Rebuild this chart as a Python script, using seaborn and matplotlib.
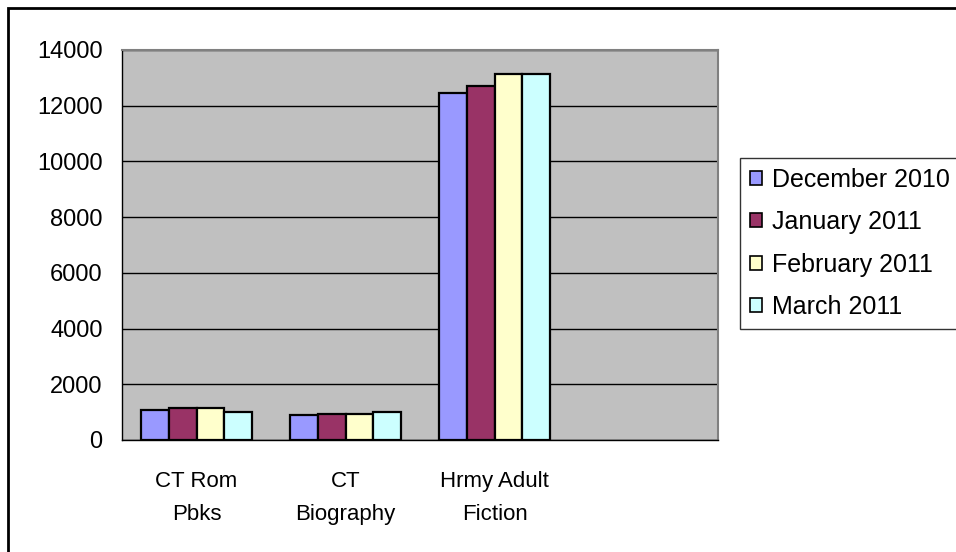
import matplotlib
matplotlib.use("Agg")
import matplotlib.pyplot as plt
import matplotlib.patches as mpatches
import seaborn as sns
import pandas as pd

categories = ["CT Rom\nPbks", "CT\nBiography", "Hrmy Adult\nFiction"]
months = ["December 2010", "January 2011", "February 2011", "March 2011"]
dec_2010 = [1080, 880, 12450]
jan_2011 = [1150, 950, 12720]
feb_2011 = [1150, 940, 13150]
mar_2011 = [1000, 1000, 13150]
colors = ["#9999FF", "#993366", "#FFFFCC", "#CCFFFF"]

rows = []
for month, vals in zip(months, [dec_2010, jan_2011, feb_2011, mar_2011]):
    for cat, v in zip(categories, vals):
        rows.append({"Category": cat, "Month": month, "Value": v})
df = pd.DataFrame(rows)

sns.set_style("white")
plt.rcParams["font.family"] = ["Liberation Sans", "DejaVu Sans"]
plt.rcParams["text.color"] = "black"
plt.rcParams["xtick.color"] = "black"
plt.rcParams["ytick.color"] = "black"

fig = plt.figure(figsize=(9.56, 5.52), dpi=100)
ax = fig.add_axes([122/956, 1-440/552, (718-122)/956, (440-50)/552])
ax.set_facecolor("#C0C0C0")

sns.barplot(data=df, x="Category", y="Value", hue="Month", order=categories,
            hue_order=months, palette=colors, width=0.75, gap=0,
            edgecolor="black", linewidth=1.6, saturation=1, ax=ax, zorder=3)

ax.set_xlim(-0.5, 3.5)
ax.set_ylim(0, 14000)
ax.set_yticks(range(0, 14001, 2000))
ax.yaxis.grid(True, color="black", linewidth=1, zorder=0)
ax.set_axisbelow(True)
ax.set_xlabel("")
ax.set_ylabel("")

ax.set_xticks([0, 1, 2])
ax.set_xticklabels(categories, fontsize=16, linespacing=1.8, color="black")
ax.set_xticks([-0.5, 0.5, 1.5, 2.5, 3.5], minor=True)
ax.tick_params(axis="x", which="major", length=0, pad=22)
ax.tick_params(axis="x", which="minor", length=6, width=1, color="black", direction="out")
ax.tick_params(axis="y", length=5, width=1, color="black", labelcolor="black",
               direction="out", labelsize=17, pad=9)

for s in ["top", "right"]:
    ax.spines[s].set_color("#808080")
    ax.spines[s].set_linewidth(1.5)
for s in ["left", "bottom"]:
    ax.spines[s].set_color("black")
    ax.spines[s].set_linewidth(1)

handles = [mpatches.Patch(facecolor=c, edgecolor="black", linewidth=1.2) for c in colors]
ax.get_legend().remove()
leg = fig.legend(handles, months, loc="center left", bbox_to_anchor=(740/956, 1-243.5/552),
                 fontsize=18, frameon=True, fancybox=False, handlelength=0.48,
                 handleheight=0.48, handletextpad=0.4, labelspacing=0.74,
                 borderpad=0.38, borderaxespad=0, labelcolor="black")
leg.get_frame().set_edgecolor("black")
leg.get_frame().set_linewidth(1)

border = mpatches.Rectangle((8/956, -0.1), 1.0, 1.1-8/552, transform=fig.transFigure,
                            fill=False, edgecolor="black", linewidth=2, clip_on=False)
fig.patches.append(border)

fig.savefig("out.png", dpi=100)
